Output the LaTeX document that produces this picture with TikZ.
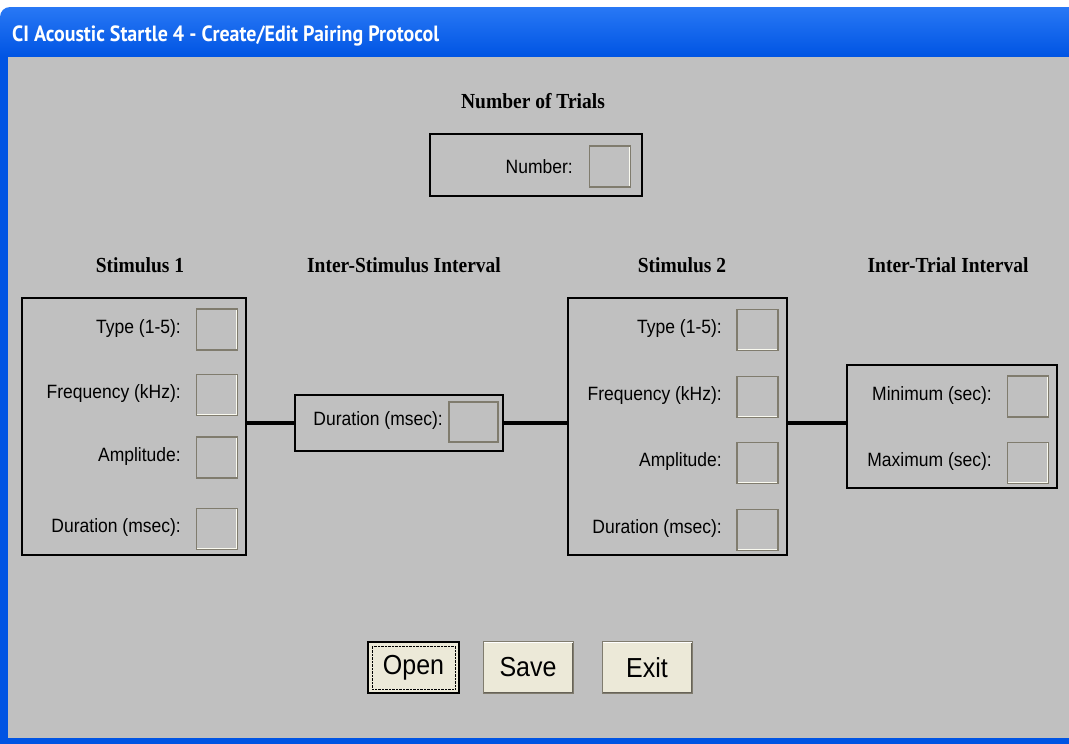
\documentclass[tikz,border=0pt]{standalone}
\usepackage{fontspec}
\usepackage{xcolor}
\usepackage{tikz}
\usetikzlibrary{positioning, calc}
\setmainfont{Liberation Sans}
\newfontfamily\headfont{Liberation Serif}
\newfontfamily\barfont{PT Sans}
\definecolor{panel}{RGB}{192, 192, 192}
\definecolor{xpblue}{RGB}{0, 84, 227}
\definecolor{xplight}{RGB}{40, 120, 245}
\definecolor{btnface}{RGB}{236, 233, 216}
\definecolor{edgedark}{RGB}{128, 124, 110}
\definecolor{edgelight}{RGB}{250, 250, 240}

\tikzset{
    group/.style={draw=black, line width=2.5pt, inner sep=0pt},
    link/.style={line width=4pt},
    heading/.style={font=\headfont\bfseries\fontsize{19.5}{21}\selectfont, inner sep=0pt, yscale=1.1},
    fieldlabel/.style={font=\fontsize{17.5}{20}\selectfont, anchor=east, inner sep=0pt, yscale=1.1},
    entry/.style={minimum width=41pt, minimum height=41pt, inner sep=0pt, draw=edgedark, line width=1.5pt,
        path picture={\draw[edgelight, line width=3pt] (path picture bounding box.south west) -- (path picture bounding box.south east) -- (path picture bounding box.north east);}},
    button/.style={fill=btnface, draw=edgedark, line width=1pt, minimum width=90pt, minimum height=46.4pt,
        inner sep=0pt, font=\fontsize{25}{28}\selectfont, yscale=1.1,
        path picture={\draw[edgedark!80!black, line width=3pt] (path picture bounding box.south west) -- (path picture bounding box.south east) -- (path picture bounding box.north east);
            \draw[white, line width=2pt] (path picture bounding box.south west) -- (path picture bounding box.north west) -- (path picture bounding box.north east);}}
}

\begin{document}
\begin{tikzpicture}[x=1pt, y=-1pt]
        \useasboundingbox (0,0) rectangle (1069,744);
        \fill[white] (0,0) rectangle (1069,744);

        % Window frame and title bar
        \fill[xpblue] (0,57) rectangle (1069,744);
        \shade[top color=xplight, bottom color=xpblue] (0,57) [rounded corners=10pt] -- (0,7) [sharp corners] -- (1069,7) -- (1069,57) -- cycle;
        \fill[panel] (8,57) rectangle (1069,738);
        \node[anchor=west, text=white, font=\barfont\bfseries\fontsize{21}{24}\selectfont, inner sep=0pt, xscale=0.95, yscale=1.05] (title) at (12,36) {CI Acoustic Startle 4 - Create/Edit Pairing Protocol};

        % Number of trials
        \node[heading] (trialshead) at (533,101) {Number of Trials};
        \node[group, minimum width=212pt, minimum height=62pt] (trials) at (536,165) {};
        \node[entry] (numbox) at (610,166.5) {};
        \node[fieldlabel] (numlabel) at (573,167) {Number:};

        % Column headings
        \node[heading] (stimAhead) at (140,265) {Stimulus 1};
        \node[heading] (isihead) at (404,265) {Inter-Stimulus Interval};
        \node[heading] (stimBhead) at (682,265) {Stimulus 2};
        \node[heading] (itihead) at (948,265) {Inter-Trial Interval};

        % Stimulus 1
        \node[group, minimum width=224pt, minimum height=257pt] (stimA) at (134,426.5) {};
        \node[entry] (stimAtype) at (217,329.5) {};
        \node[entry] (stimAfreq) at (217,395) {};
        \node[entry] (stimAamp) at (217,457.5) {};
        \node[entry] (stimAdur) at (217,529) {};
        \node[fieldlabel] (stimAtypel) at (181,329) {Type (1-5):};
        \node[fieldlabel] (stimAfreql) at (181,394) {Frequency (kHz):};
        \node[fieldlabel] (stimAampl) at (181,457) {Amplitude:};
        \node[fieldlabel] (stimAdurl) at (181,528) {Duration (msec):};

        % Inter-stimulus interval
        \node[group, minimum width=208pt, minimum height=56pt] (isi) at (399,423) {};
        \node[entry, minimum width=49pt, minimum height=40pt] (isidur) at (473.5,422) {};
        \node[fieldlabel] (isidurl) at (443,421) {Duration (msec):};

        % Stimulus 2
        \node[group, minimum width=219pt, minimum height=257pt] (stimB) at (677.5,426.5) {};
        \node[entry] (stimBtype) at (757.5,330) {};
        \node[entry] (stimBfreq) at (757.5,397) {};
        \node[entry] (stimBamp) at (757.5,463) {};
        \node[entry] (stimBdur) at (757.5,530) {};
        \node[fieldlabel] (stimBtypel) at (722,329) {Type (1-5):};
        \node[fieldlabel] (stimBfreql) at (722,396) {Frequency (kHz):};
        \node[fieldlabel] (stimBampl) at (722,462) {Amplitude:};
        \node[fieldlabel] (stimBdurl) at (722,529) {Duration (msec):};

        % Inter-trial interval
        \node[group, minimum width=210pt, minimum height=123pt] (iti) at (952,426.5) {};
        \node[entry] (itimin) at (1028,396.5) {};
        \node[entry] (itimax) at (1028,463) {};
        \node[fieldlabel] (itiminl) at (992,396) {Minimum (sec):};
        \node[fieldlabel] (itimaxl) at (992,462) {Maximum (sec):};

        % Connectors
        \coordinate (itijoin) at ($(iti.west)+(0,-4)$);
        \draw[link] (stimA.east |- isi.west) -- (isi.west);
        \draw[link] (isi.east) -- (stimB.west |- isi.east);
        \draw[link] (stimB.east |- itijoin) -- (itijoin);

        % Buttons
        \node[button, draw=black, line width=2pt, minimum width=91pt] (open) at (413.5,667.5) {Open};
        \draw[densely dotted] ($(open.south west)+(5,-5)$) rectangle ($(open.north east)+(-5,5)$);
        \node[button] (save) at (528,667.5) {Save};
        \node[button] (exit) at (647,667.5) {Exit};
    \end{tikzpicture}
\end{document}
